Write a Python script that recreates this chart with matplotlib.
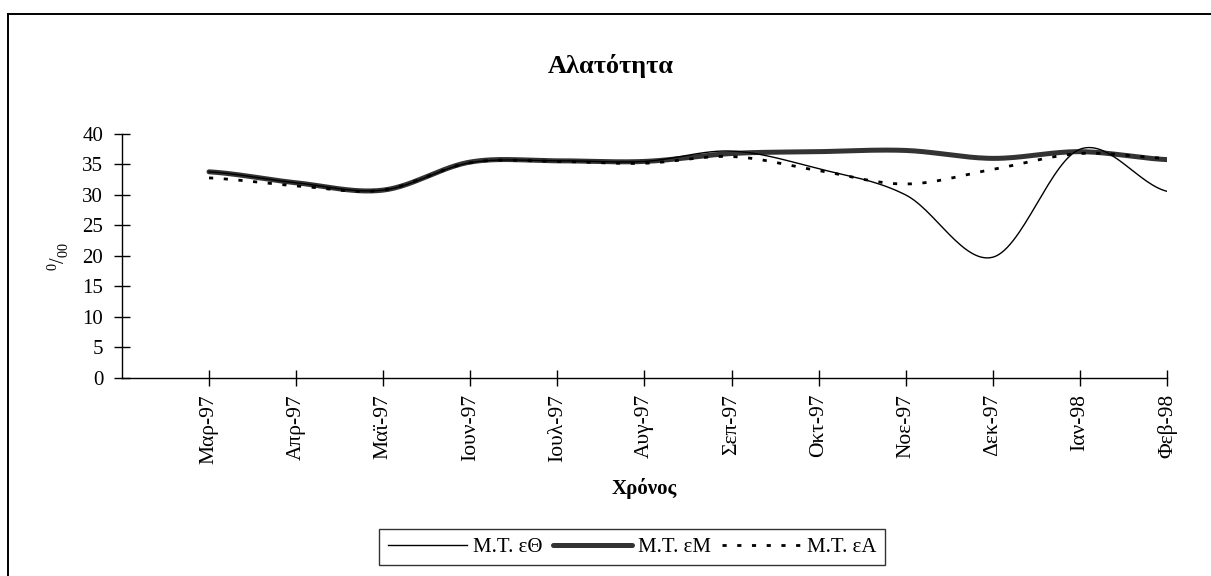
import matplotlib
matplotlib.use("Agg")
import matplotlib.pyplot as plt
import numpy as np
from matplotlib.lines import Line2D

plt.rcParams['font.family'] = ['Liberation Serif', 'DejaVu Serif']
plt.rcParams['mathtext.fontset'] = 'custom'
plt.rcParams['mathtext.rm'] = 'Liberation Serif'

# monthly salinity means (per mille)
months = ["Μαρ-97", "Απρ-97", "Μαϊ-97", "Ιουν-97", "Ιουλ-97", "Αυγ-97",
          "Σεπ-97", "Οκτ-97", "Νοε-97", "Δεκ-97", "Ιαν-98", "Φεβ-98"]
mt_eth = [33.8, 32.0, 30.8, 35.3, 35.6, 35.5, 37.2, 34.3, 30.0, 19.8, 37.5, 30.6]
mt_em = [33.8, 32.0, 30.8, 35.4, 35.6, 35.5, 36.8, 37.1, 37.3, 36.0, 37.1, 35.8]
mt_ea = [32.8, 31.5, 30.8, 35.3, 35.5, 35.2, 36.3, 34.0, 31.8, 34.2, 36.8, 36.0]

series_labels = ["Μ.Τ. εΘ", "Μ.Τ. εΜ", "Μ.Τ. εΑ"]


def smooth(y, n=30):
    """Catmull-Rom style smoothing between consecutive points."""
    y = np.asarray(y, dtype=float)
    x = np.arange(len(y), dtype=float)
    xs, ys = [], []
    for i in range(len(y) - 1):
        p0 = y[i - 1] if i > 0 else y[i]
        p1, p2 = y[i], y[i + 1]
        p3 = y[i + 2] if i + 2 < len(y) else y[i + 1]
        t = np.linspace(0, 1, n, endpoint=False)
        c1 = p1 + (p2 - p0) / 6.0
        c2 = p2 - (p3 - p1) / 6.0
        seg = ((1 - t) ** 3 * p1 + 3 * (1 - t) ** 2 * t * c1
               + 3 * (1 - t) * t ** 2 * c2 + t ** 3 * p2)
        xs.append(x[i] + t)
        ys.append(seg)
    xs.append([x[-1]])
    ys.append([y[-1]])
    return np.concatenate(xs), np.concatenate(ys)


fig = plt.figure(figsize=(12.11, 5.76), dpi=100)
ax = fig.add_axes([0.1007, 0.3438, 0.8630, 0.4236])

x1, y1 = smooth(mt_eth)
x2, y2 = smooth(mt_em)
x3, y3 = smooth(mt_ea)
ax.plot(x1, y1, color="black", lw=1.0, label=series_labels[0], zorder=3)
ax.plot(x2, y2, color="#333333", lw=3.6, solid_capstyle="round",
        label=series_labels[1], zorder=2)
ax.plot(x3, y3, color="black", lw=2.0, linestyle=(0, (1.5, 3.8)),
        label=series_labels[2], zorder=4)

ax.set_xlim(-1, len(months) - 1)
ax.set_ylim(0, 40)
ax.set_yticks(np.arange(0, 41, 5))
ax.set_xticks(np.arange(len(months)))
ax.set_xticklabels(months, rotation=90, fontsize=15.5)
ax.tick_params(axis="y", labelsize=15, direction="inout", length=11,
               width=1, pad=8)
ax.tick_params(axis="x", direction="inout", length=11, width=1, pad=6)
for side in ("top", "right"):
    ax.spines[side].set_visible(False)
for side in ("left", "bottom"):
    ax.spines[side].set_linewidth(1.0)

ax.set_xlabel("Χρόνος", fontsize=15, fontweight="bold", va="top")
ax.xaxis.set_label_coords(0.5, -0.41)
ax.set_ylabel(r"$^{0}/_{00}$", fontsize=14.5, labelpad=8)
fig.text(0.504, 0.886, "Αλατότητα", ha="center", va="center",
         fontsize=19, fontweight="bold")

leg = ax.legend(loc="center", bbox_to_anchor=(0.522, 0.0503),
                bbox_transform=fig.transFigure, ncol=3, frameon=True,
                fancybox=False, edgecolor="black", fontsize=15,
                handlelength=3.8, handletextpad=0.3, columnspacing=0.5,
                borderpad=0.4, borderaxespad=0)
leg.get_frame().set_linewidth(1.0)

# outer chart border (left and top edges)
fig.add_artist(Line2D([0.0066, 0.0066], [-0.01, 0.976], color="black",
                      lw=1.4, transform=fig.transFigure))
fig.add_artist(Line2D([0.0066, 1.0], [0.976, 0.976], color="black",
                      lw=1.4, transform=fig.transFigure))

fig.savefig("out.png", dpi=100)
